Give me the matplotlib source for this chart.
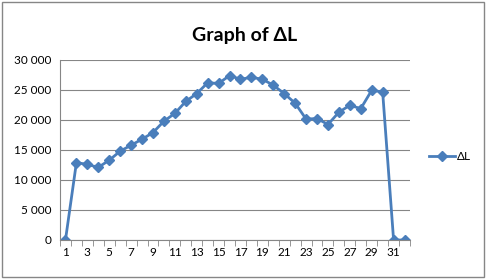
import matplotlib
matplotlib.use("Agg")
import matplotlib.pyplot as plt
from matplotlib.patches import Rectangle
from matplotlib.ticker import FuncFormatter

categories = list(range(1, 33))
delta_l = [0, 12900, 12600, 12100, 13300, 14800, 15800, 16800, 17900, 19800,
           21100, 23100, 24400, 26200, 26100, 27400, 26800, 27100, 26800, 25800,
           24400, 22800, 20150, 20250, 19250, 21300, 22450, 21900, 24950, 24650,
           0, 0]
y_ticks = [0, 5000, 10000, 15000, 20000, 25000, 30000]
series_name = "ΔL"
title = "Graph of ΔL"

plt.rcParams['font.family'] = ['Lato', 'DejaVu Sans']
fig = plt.figure(figsize=(4.87, 2.79), dpi=100)
fig.patches.append(Rectangle((0.004, 0.007), 0.99, 0.986, transform=fig.transFigure,
                             fill=False, edgecolor='#868686', linewidth=1))
ax = fig.add_axes([60/487, 1-240/279, 350/487, 180/279])
ax.plot(categories, delta_l, color='#4A7EBB', linewidth=2, marker='D', markersize=5.5,
        markerfacecolor='#4A7EBB', markeredgecolor='#4A7EBB', label=series_name)
ax.set_xlim(0.5, 32.5)
ax.set_ylim(0, 30000)
ax.set_yticks(y_ticks)
ax.yaxis.set_major_formatter(FuncFormatter(lambda v, p: f"{int(v):,}".replace(",", " ")))
ax.set_xticks([c for c in categories if c % 2 == 1])
ax.set_xticks([c + 0.5 for c in [0] + categories], minor=True)
ax.tick_params(axis='x', which='major', length=0, labelsize=8.5, pad=5)
ax.tick_params(axis='x', which='minor', length=4, color='#868686')
ax.tick_params(axis='y', length=0, labelsize=8.5, pad=6)
ax.grid(axis='y', color='#868686', linewidth=0.8)
ax.set_axisbelow(True)
for s in ['top', 'right']:
    ax.spines[s].set_visible(False)
ax.spines['left'].set_color('#868686')
ax.spines['bottom'].set_color('#868686')
fig.text(245/487, 1-35/279, title, ha='center', va='center', fontsize=14, fontweight='bold')
fig.legend(loc='center left', bbox_to_anchor=(418/487, 1-157/279), frameon=False,
           fontsize=8.5, handlelength=2.2, handletextpad=0.2)
fig.savefig("out.png", dpi=100)
